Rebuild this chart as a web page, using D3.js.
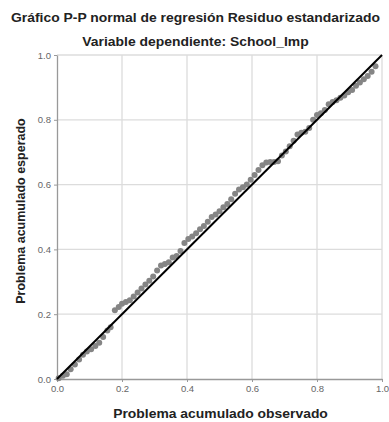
<!DOCTYPE html>
<html>
<head>
<meta charset="utf-8">
<script src="https://cdn.jsdelivr.net/npm/d3@7"></script>
<style>
  body { margin: 0; background: #fff; }
  svg { font-family: "Liberation Sans", Arial, sans-serif; }
  .tick text { fill: #666; font-size: 9.5px; }
</style>
</head>
<body>
<div id="chart"></div>
<script>
const titleLines = ['Gráfico P-P normal de regresión Residuo estandarizado', 'Variable dependiente: School_Imp']
const xLabel = 'Problema acumulado observado'
const yLabel = 'Problema acumulado esperado'
const ticks = [0, 0.2, 0.4, 0.6, 0.8, 1.0]

const observed = [
  0.005, 0.018, 0.030, 0.042, 0.055, 0.068, 0.080, 0.092, 0.105, 0.118,
  0.130, 0.142, 0.155, 0.165, 0.178, 0.190, 0.200, 0.212, 0.224, 0.236,
  0.248, 0.260, 0.272, 0.284, 0.296, 0.308, 0.320, 0.332, 0.344, 0.356,
  0.368, 0.380, 0.392, 0.404, 0.416, 0.428, 0.440, 0.452, 0.464, 0.476,
  0.488, 0.500, 0.512, 0.524, 0.536, 0.548, 0.560, 0.572, 0.584, 0.596,
  0.608, 0.620, 0.632, 0.644, 0.656, 0.668, 0.680, 0.692, 0.704, 0.716,
  0.728, 0.740, 0.752, 0.764, 0.776, 0.788, 0.800, 0.812, 0.824, 0.836,
  0.848, 0.860, 0.872, 0.884, 0.896, 0.908, 0.920, 0.932, 0.944, 0.956,
  0.968, 0.980
]
const expected = [
  0.002, 0.010, 0.015, 0.030, 0.045, 0.060, 0.075, 0.085, 0.092, 0.102,
  0.112, 0.130, 0.150, 0.160, 0.212, 0.222, 0.232, 0.238, 0.243, 0.255,
  0.267, 0.279, 0.292, 0.303, 0.316, 0.335, 0.350, 0.355, 0.360, 0.375,
  0.380, 0.395, 0.420, 0.432, 0.440, 0.450, 0.462, 0.472, 0.485, 0.500,
  0.508, 0.518, 0.530, 0.540, 0.555, 0.572, 0.585, 0.592, 0.600, 0.615,
  0.630, 0.645, 0.660, 0.668, 0.670, 0.670, 0.672, 0.690, 0.702, 0.718,
  0.735, 0.755, 0.760, 0.763, 0.775, 0.800, 0.815, 0.820, 0.830, 0.848,
  0.855, 0.860, 0.868, 0.875, 0.885, 0.892, 0.905, 0.915, 0.925, 0.935,
  0.948, 0.965
]

const width = 389
const height = 422
const margin = { top: 55, right: 7, bottom: 43, left: 57 }

const svg = d3.select('#chart')
  .append('svg')
  .attr('width', width)
  .attr('height', height)

const x = d3.scaleLinear().domain([0, 1]).range([margin.left, width - margin.right])
const y = d3.scaleLinear().domain([0, 1]).range([height - margin.bottom, margin.top])

// Titles (picture is slightly stretched horizontally)
svg.selectAll('.title')
  .data(titleLines)
  .enter()
  .append('text')
  .attr('class', 'title')
  .attr('transform', (d, i) => `translate(${width / 2 + 1},${22 + i * 24}) scale(1.07,1)`)
  .attr('text-anchor', 'middle')
  .attr('font-size', 13)
  .attr('font-weight', 'bold')
  .attr('fill', '#222')
  .text(d => d)

// Grid
const grid = svg.append('g').attr('class', 'grid')
grid.selectAll('.gx')
  .data(ticks.slice(1))
  .enter()
  .append('line')
  .attr('x1', d => x(d)).attr('x2', d => x(d))
  .attr('y1', y(0)).attr('y2', y(1))
  .attr('stroke', '#dcdcdc')
  .attr('stroke-width', 1.3)
grid.selectAll('.gy')
  .data(ticks.slice(1))
  .enter()
  .append('line')
  .attr('y1', d => y(d)).attr('y2', d => y(d))
  .attr('x1', x(0)).attr('x2', x(1))
  .attr('stroke', '#dcdcdc')
  .attr('stroke-width', 1.3)

// Axes
svg.append('g')
  .attr('transform', `translate(0,${y(0)})`)
  .call(d3.axisBottom(x).tickValues(ticks).tickFormat(d3.format('.1f')).tickSizeInner(3).tickSizeOuter(0).tickPadding(3))
svg.append('g')
  .attr('transform', `translate(${x(0)},0)`)
  .call(d3.axisLeft(y).tickValues(ticks).tickFormat(d3.format('.1f')).tickSizeInner(3).tickSizeOuter(0).tickPadding(3))
svg.selectAll('.domain').attr('stroke', '#999').attr('stroke-width', 1.3)
svg.selectAll('.tick line').attr('stroke', '#999')

// Points
const points = observed.map((o, i) => ({ o, e: expected[i] }))
svg.append('g')
  .selectAll('circle')
  .data(points)
  .enter()
  .append('circle')
  .attr('cx', d => x(d.o))
  .attr('cy', d => y(d.e))
  .attr('r', 3)
  .attr('fill', '#858585')

// Reference line
svg.append('line')
  .attr('x1', x(0)).attr('y1', y(0))
  .attr('x2', x(1)).attr('y2', y(1))
  .attr('stroke', '#000')
  .attr('stroke-width', 2)

// Axis titles
svg.append('text')
  .attr('transform', `translate(${(x(0) + x(1)) / 2 + 1},418) scale(1.07,1)`)
  .attr('text-anchor', 'middle')
  .attr('font-size', 13)
  .attr('font-weight', 'bold')
  .attr('fill', '#222')
  .text(xLabel)
svg.append('text')
  .attr('transform', `translate(25,${(y(0) + y(1)) / 2 - 6}) rotate(-90)`)
  .attr('text-anchor', 'middle')
  .attr('font-size', 12.5)
  .attr('font-weight', 'bold')
  .attr('fill', '#222')
  .text(yLabel)
</script>
</body>
</html>
